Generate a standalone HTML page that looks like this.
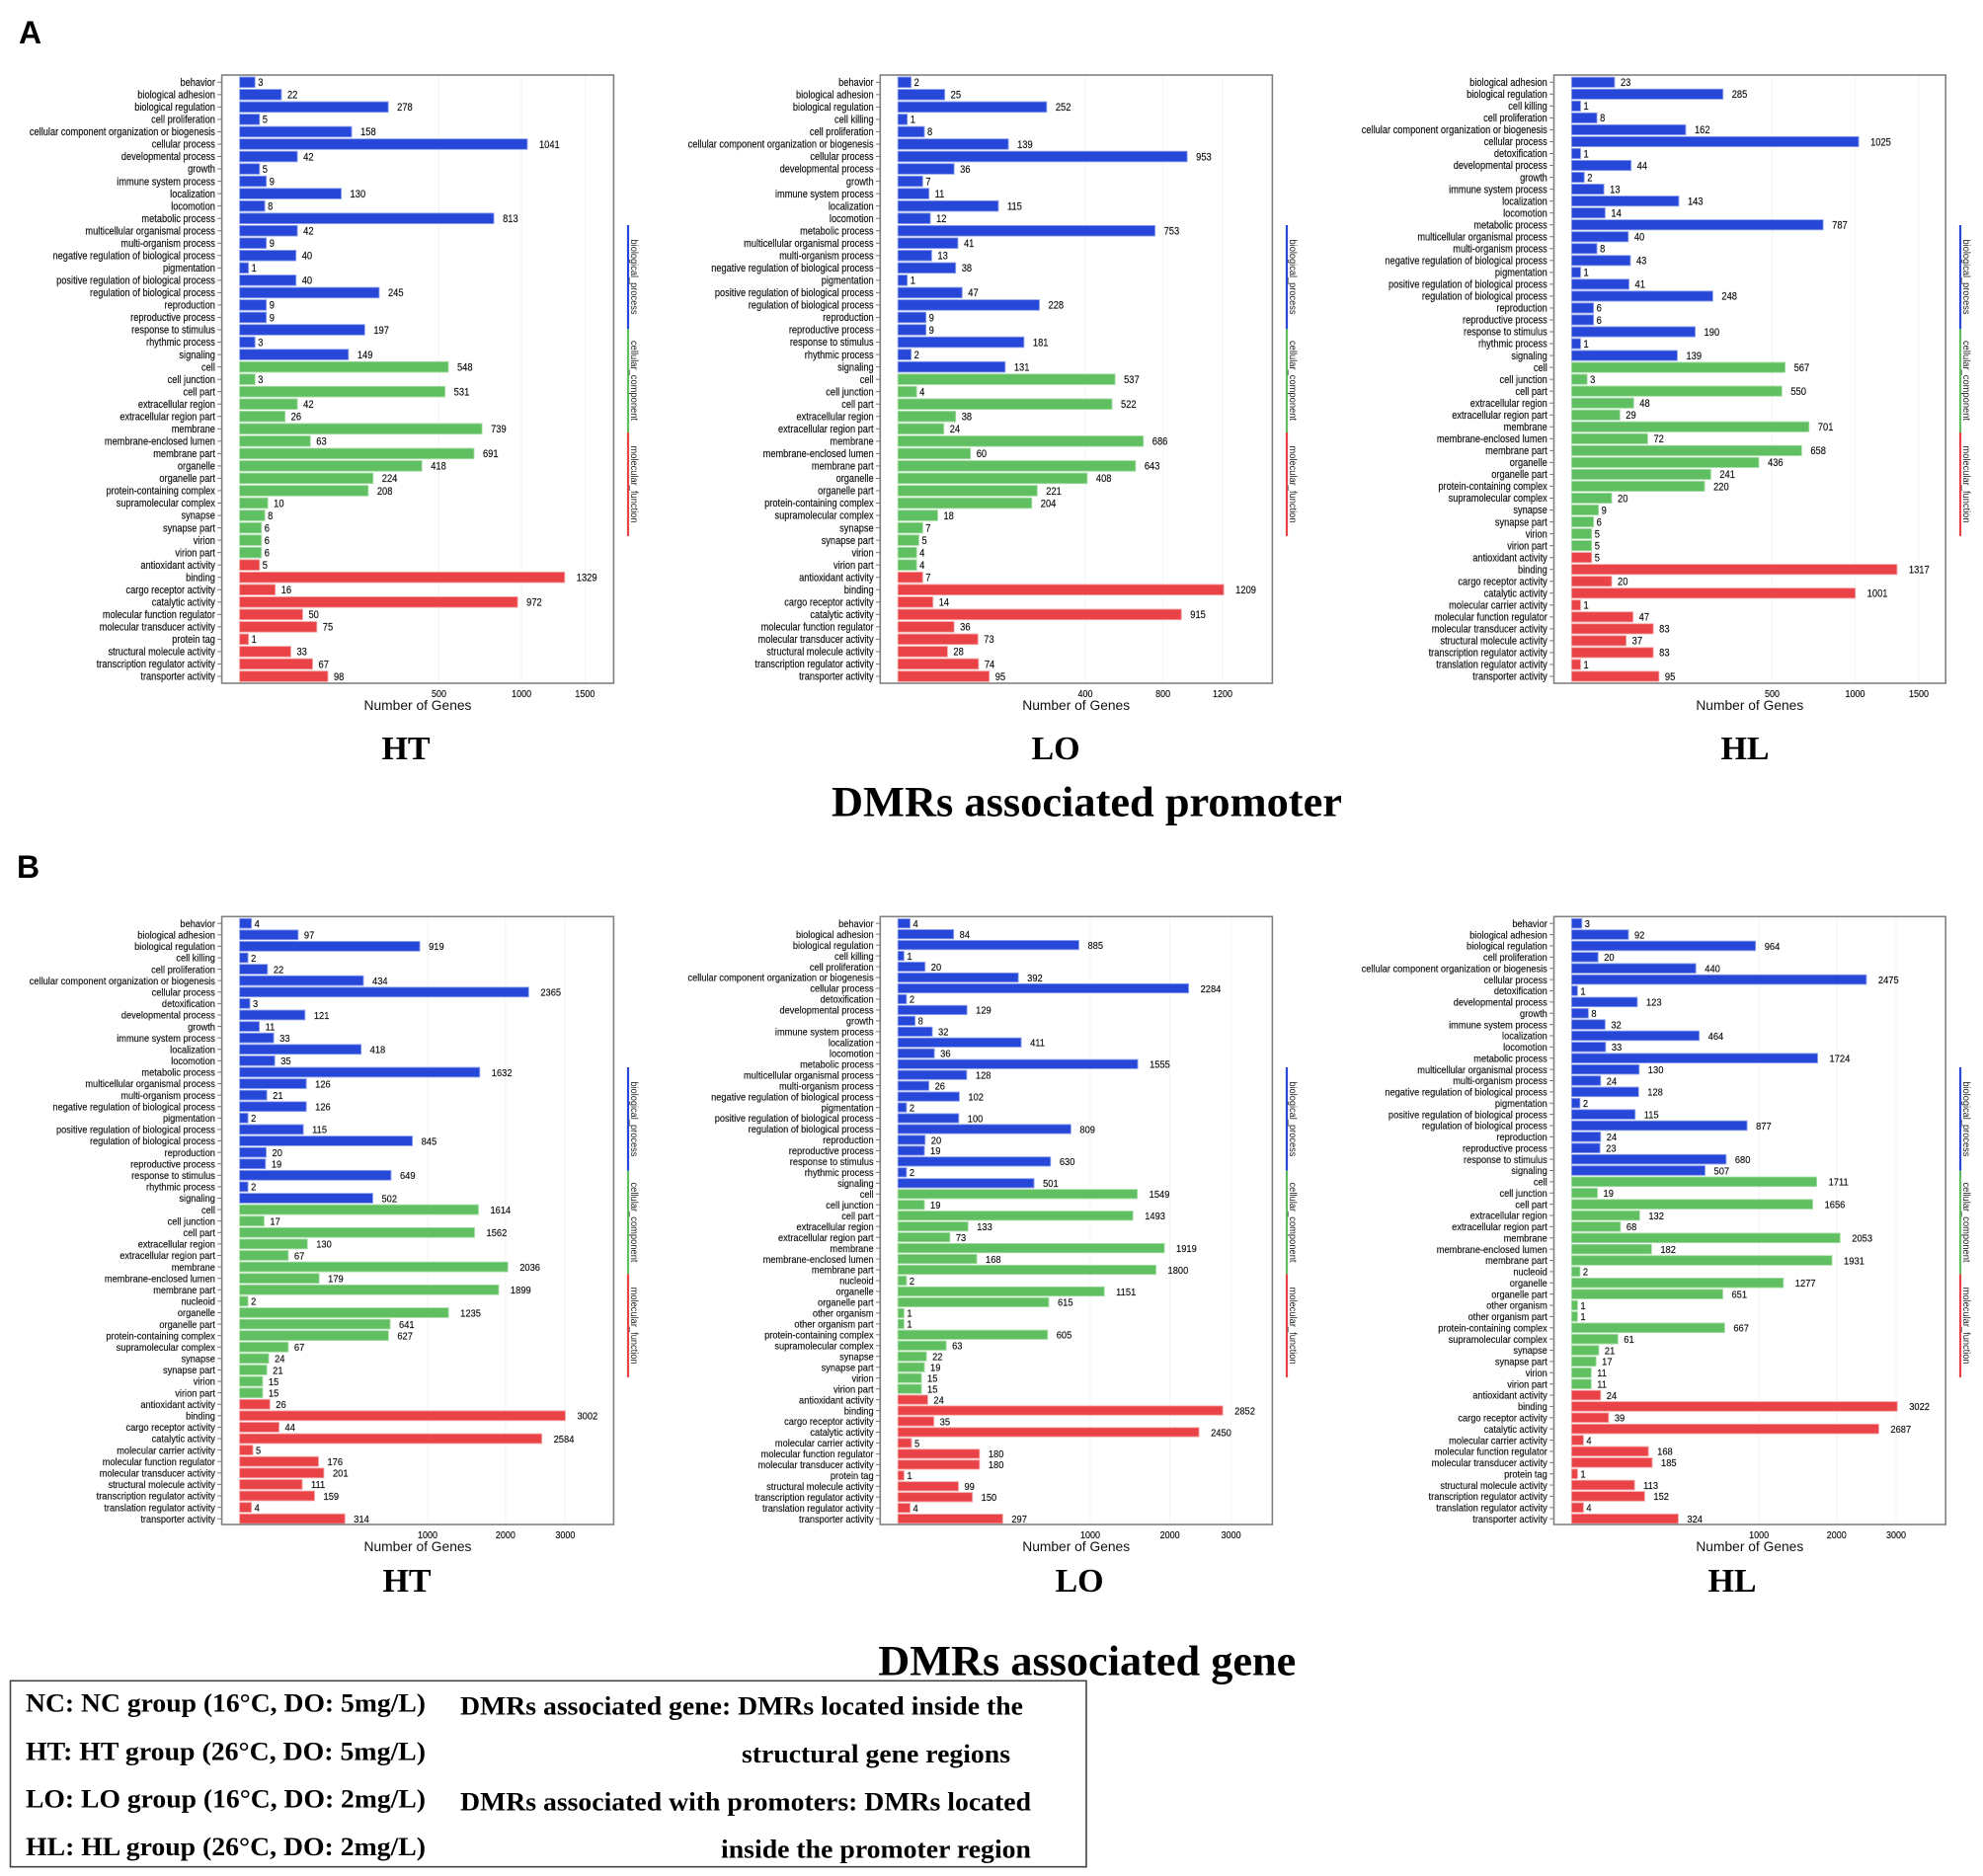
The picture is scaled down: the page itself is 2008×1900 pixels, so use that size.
<!DOCTYPE html>
<html lang="en">
<head>
<meta charset="utf-8">
<title>GO enrichment of DMR-associated promoters and genes</title>
<style>
  html, body { margin: 0; padding: 0; background: #fff; }
  svg { display: block; filter: blur(0.35px); }
  .cat, .val, .tick { font-family: "Liberation Sans", sans-serif; fill: #111; stroke: #111; stroke-width: 0.15px; }
  .axt { font-family: "Liberation Sans", sans-serif; fill: #111; font-size: 13.8px; }
  .grp { font-family: "Liberation Sans", sans-serif; fill: #222; font-size: 10.5px; }
  .ser { font-family: "Liberation Serif", serif; font-weight: 700; fill: #000; }
  .pl { font-family: "Liberation Sans", sans-serif; font-weight: 700; fill: #000; font-size: 32px; }
</style>
</head>
<body>
<svg id="figure" xmlns="http://www.w3.org/2000/svg" width="2008" height="1900" viewBox="0 0 2008 1900">
  <rect x="0" y="0" width="2008" height="1900" fill="#fff"/>
  <text class="pl" x="19" y="44">A</text>
  <text class="pl" x="17" y="889">B</text>

  <text class="ser" x="411" y="769" font-size="34" text-anchor="middle">HT</text>
  <text class="ser" x="1069" y="769" font-size="34" text-anchor="middle">LO</text>
  <text class="ser" x="1767" y="769" font-size="34" text-anchor="middle">HL</text>
  <text class="ser" x="842" y="826.7" font-size="43" textLength="517" lengthAdjust="spacingAndGlyphs">DMRs associated promoter</text>

  <text class="ser" x="412" y="1612" font-size="34" text-anchor="middle">HT</text>
  <text class="ser" x="1093" y="1612" font-size="34" text-anchor="middle">LO</text>
  <text class="ser" x="1754" y="1612" font-size="34" text-anchor="middle">HL</text>
  <text class="ser" x="889.3" y="1696.7" font-size="43" textLength="423" lengthAdjust="spacingAndGlyphs">DMRs associated gene</text>

  <rect x="10.5" y="1702.3" width="1089.5" height="188.4" fill="none" stroke="#444" stroke-width="1.6"/>
  <text class="ser" x="26" y="1733.3" font-size="26.5" textLength="405" lengthAdjust="spacingAndGlyphs">NC: NC group (16°C, DO: 5mg/L)</text>
  <text class="ser" x="26" y="1782.3" font-size="26.5" textLength="405" lengthAdjust="spacingAndGlyphs">HT: HT group (26°C, DO: 5mg/L)</text>
  <text class="ser" x="26" y="1830.7" font-size="26.5" textLength="405" lengthAdjust="spacingAndGlyphs">LO: LO group (16°C, DO: 2mg/L)</text>
  <text class="ser" x="26" y="1879" font-size="26.5" textLength="405" lengthAdjust="spacingAndGlyphs">HL: HL group (26°C, DO: 2mg/L)</text>
  <text class="ser" x="466" y="1736.7" font-size="26.5" textLength="570" lengthAdjust="spacingAndGlyphs">DMRs associated gene: DMRs located inside the</text>
  <text class="ser" x="751" y="1785" font-size="26.5" textLength="272" lengthAdjust="spacingAndGlyphs">structural gene regions</text>
  <text class="ser" x="466" y="1833.3" font-size="26.5" textLength="578" lengthAdjust="spacingAndGlyphs">DMRs associated with promoters: DMRs located</text>
  <text class="ser" x="730" y="1881.7" font-size="26.5" textLength="314" lengthAdjust="spacingAndGlyphs">inside the promoter region</text>
</svg>

<script>
// ---- Panel A (DMRs associated promoter) ----
const aHtCategories = ["behavior","biological adhesion","biological regulation","cell proliferation","cellular component organization or biogenesis","cellular process","developmental process","growth","immune system process","localization","locomotion","metabolic process","multicellular organismal process","multi-organism process","negative regulation of biological process","pigmentation","positive regulation of biological process","regulation of biological process","reproduction","reproductive process","response to stimulus","rhythmic process","signaling","cell","cell junction","cell part","extracellular region","extracellular region part","membrane","membrane-enclosed lumen","membrane part","organelle","organelle part","protein-containing complex","supramolecular complex","synapse","synapse part","virion","virion part","antioxidant activity","binding","cargo receptor activity","catalytic activity","molecular function regulator","molecular transducer activity","protein tag","structural molecule activity","transcription regulator activity","transporter activity"];
const aHtValues = [3,22,278,5,158,1041,42,5,9,130,8,813,42,9,40,1,40,245,9,9,197,3,149,548,3,531,42,26,739,63,691,418,224,208,10,8,6,6,6,5,1329,16,972,50,75,1,33,67,98];
const aHtGroupSizes = [23,16,10];
const aHtTicks = [500,1000,1500];

const aLoCategories = ["behavior","biological adhesion","biological regulation","cell killing","cell proliferation","cellular component organization or biogenesis","cellular process","developmental process","growth","immune system process","localization","locomotion","metabolic process","multicellular organismal process","multi-organism process","negative regulation of biological process","pigmentation","positive regulation of biological process","regulation of biological process","reproduction","reproductive process","response to stimulus","rhythmic process","signaling","cell","cell junction","cell part","extracellular region","extracellular region part","membrane","membrane-enclosed lumen","membrane part","organelle","organelle part","protein-containing complex","supramolecular complex","synapse","synapse part","virion","virion part","antioxidant activity","binding","cargo receptor activity","catalytic activity","molecular function regulator","molecular transducer activity","structural molecule activity","transcription regulator activity","transporter activity"];
const aLoValues = [2,25,252,1,8,139,953,36,7,11,115,12,753,41,13,38,1,47,228,9,9,181,2,131,537,4,522,38,24,686,60,643,408,221,204,18,7,5,4,4,7,1209,14,915,36,73,28,74,95];
const aLoGroupSizes = [24,16,9];
const aLoTicks = [400,800,1200];

const aHlCategories = ["biological adhesion","biological regulation","cell killing","cell proliferation","cellular component organization or biogenesis","cellular process","detoxification","developmental process","growth","immune system process","localization","locomotion","metabolic process","multicellular organismal process","multi-organism process","negative regulation of biological process","pigmentation","positive regulation of biological process","regulation of biological process","reproduction","reproductive process","response to stimulus","rhythmic process","signaling","cell","cell junction","cell part","extracellular region","extracellular region part","membrane","membrane-enclosed lumen","membrane part","organelle","organelle part","protein-containing complex","supramolecular complex","synapse","synapse part","virion","virion part","antioxidant activity","binding","cargo receptor activity","catalytic activity","molecular carrier activity","molecular function regulator","molecular transducer activity","structural molecule activity","transcription regulator activity","translation regulator activity","transporter activity"];
const aHlValues = [23,285,1,8,162,1025,1,44,2,13,143,14,787,40,8,43,1,41,248,6,6,190,1,139,567,3,550,48,29,701,72,658,436,241,220,20,9,6,5,5,5,1317,20,1001,1,47,83,37,83,1,95];
const aHlGroupSizes = [24,16,11];
const aHlTicks = [500,1000,1500];

// ---- Panel B (DMRs associated gene) ----
const bHtCategories = ["behavior","biological adhesion","biological regulation","cell killing","cell proliferation","cellular component organization or biogenesis","cellular process","detoxification","developmental process","growth","immune system process","localization","locomotion","metabolic process","multicellular organismal process","multi-organism process","negative regulation of biological process","pigmentation","positive regulation of biological process","regulation of biological process","reproduction","reproductive process","response to stimulus","rhythmic process","signaling","cell","cell junction","cell part","extracellular region","extracellular region part","membrane","membrane-enclosed lumen","membrane part","nucleoid","organelle","organelle part","protein-containing complex","supramolecular complex","synapse","synapse part","virion","virion part","antioxidant activity","binding","cargo receptor activity","catalytic activity","molecular carrier activity","molecular function regulator","molecular transducer activity","structural molecule activity","transcription regulator activity","translation regulator activity","transporter activity"];
const bHtValues = [4,97,919,2,22,434,2365,3,121,11,33,418,35,1632,126,21,126,2,115,845,20,19,649,2,502,1614,17,1562,130,67,2036,179,1899,2,1235,641,627,67,24,21,15,15,26,3002,44,2584,5,176,201,111,159,4,314];
const bHtGroupSizes = [25,17,11];
const bHtTicks = [1000,2000,3000];

const bLoCategories = ["behavior","biological adhesion","biological regulation","cell killing","cell proliferation","cellular component organization or biogenesis","cellular process","detoxification","developmental process","growth","immune system process","localization","locomotion","metabolic process","multicellular organismal process","multi-organism process","negative regulation of biological process","pigmentation","positive regulation of biological process","regulation of biological process","reproduction","reproductive process","response to stimulus","rhythmic process","signaling","cell","cell junction","cell part","extracellular region","extracellular region part","membrane","membrane-enclosed lumen","membrane part","nucleoid","organelle","organelle part","other organism","other organism part","protein-containing complex","supramolecular complex","synapse","synapse part","virion","virion part","antioxidant activity","binding","cargo receptor activity","catalytic activity","molecular carrier activity","molecular function regulator","molecular transducer activity","protein tag","structural molecule activity","transcription regulator activity","translation regulator activity","transporter activity"];
const bLoValues = [4,84,885,1,20,392,2284,2,129,8,32,411,36,1555,128,26,102,2,100,809,20,19,630,2,501,1549,19,1493,133,73,1919,168,1800,2,1151,615,1,1,605,63,22,19,15,15,24,2852,35,2450,5,180,180,1,99,150,4,297];
const bLoGroupSizes = [25,19,12];
const bLoTicks = [1000,2000,3000];

const bHlCategories = ["behavior","biological adhesion","biological regulation","cell proliferation","cellular component organization or biogenesis","cellular process","detoxification","developmental process","growth","immune system process","localization","locomotion","metabolic process","multicellular organismal process","multi-organism process","negative regulation of biological process","pigmentation","positive regulation of biological process","regulation of biological process","reproduction","reproductive process","response to stimulus","signaling","cell","cell junction","cell part","extracellular region","extracellular region part","membrane","membrane-enclosed lumen","membrane part","nucleoid","organelle","organelle part","other organism","other organism part","protein-containing complex","supramolecular complex","synapse","synapse part","virion","virion part","antioxidant activity","binding","cargo receptor activity","catalytic activity","molecular carrier activity","molecular function regulator","molecular transducer activity","protein tag","structural molecule activity","transcription regulator activity","translation regulator activity","transporter activity"];
const bHlValues = [3,92,964,20,440,2475,1,123,8,32,464,33,1724,130,24,128,2,115,877,24,23,680,507,1711,19,1656,132,68,2053,182,1931,2,1277,651,1,1,667,61,21,17,11,11,24,3022,39,2687,4,168,185,1,113,152,4,324];
const bHlGroupSizes = [23,19,12];
const bHlTicks = [1000,2000,3000];

const groupNames = ["biological_process","cellular_component","molecular_function"];

const NS = "http://www.w3.org/2000/svg";
const root = document.getElementById("figure");
const fills = ["#2747d8","#60bf60","#ea4347"];
const edges = ["#8fa2ee","#a6dca6","#f4a3a5"];

function make(tag, attrs, parent, text) {
  const el = document.createElementNS(NS, tag);
  for (const key in attrs) el.setAttribute(key, attrs[key]);
  if (text !== undefined) el.textContent = text;
  parent.appendChild(el);
  return el;
}
function slug(s) { return s.toLowerCase().replace(/[^a-z0-9]+/g, "-"); }

function drawPanel(p) {
  const g = make("g", {}, root);
  
  

  const n = p.categories.length;
  const xScale = v => p.x0 + p.k * Math.sqrt(v);
  const yScale = i => p.firstY + i * (p.lastY - p.firstY) / (n - 1);
  const pitch = (p.lastY - p.firstY) / (n - 1);
  const barH = pitch * 0.85;

  const plotBg = make("rect", {x: p.left, y: p.top, width: p.right - p.left, height: p.bottom - p.top, fill: "#fff"}, g);
  
  

  p.ticks.forEach(t => {
    const grid = make("line", {x1: xScale(t), x2: xScale(t), y1: p.top, y2: p.bottom, stroke: "#f3f3f3", "stroke-width": 1}, g);
    
    
  });

  let group = 0, groupEnd = p.groupSizes[0];
  p.categories.forEach((cat, i) => {
    while (i >= groupEnd) { group++; groupEnd += p.groupSizes[group]; }
    const y = yScale(i);
    const v = p.values[i];
    const end = xScale(v);

    const tick = make("line", {x1: p.left - 4.4, x2: p.left, y1: y, y2: y, stroke: "#777", "stroke-width": 1}, g);
    
    

    const label = make("text", {"class": "cat", "font-size": 9.25, "text-anchor": "end", transform: "translate(" + (p.left - 6.7) + "," + (y + 3.7) + ") scale(1," + p.sy + ")"}, g, cat);
    
    

    const bar = make("rect", {x: p.x0, y: y - barH / 2, width: end - p.x0, height: barH, fill: fills[group], stroke: edges[group], "stroke-width": 0.9}, g);
    
    

    const text = String(v);
    const val = make("text", {"class": "val", "font-size": 9.35, transform: "translate(" + (end + 3 * text.length) + "," + (y + 3.8) + ") scale(1," + p.sy + ")"}, g, text);
    
    
  });

  const frame = make("rect", {x: p.left, y: p.top, width: p.right - p.left, height: p.bottom - p.top, fill: "none", stroke: "#808080", "stroke-width": 1.6}, g);
  
  

  p.ticks.forEach(t => {
    const tl = make("text", {"class": "tick", "font-size": 9, "text-anchor": "middle", transform: "translate(" + xScale(t) + "," + (p.bottom + 14) + ") scale(1,1.15)"}, g, String(t));
    
    
  });

  const axt = make("text", {"class": "axt", x: p.axisX, y: p.bottom + 27, "text-anchor": "middle"}, g, "Number of Genes");
  
  

  const segH = (p.stripBottom - p.stripTop) / 3;
  const lengths = [76, 81, 78];
  groupNames.forEach((name, i) => {
    const seg = make("rect", {x: p.strip - 1.1, y: p.stripTop + i * segH, width: 2.2, height: segH, fill: fills[i]}, g);
    
    

    const cy = p.stripTop + (i + 0.5) * segH;
    const t = make("text", {"class": "grp", transform: "translate(" + (p.strip + 3) + "," + cy + ") rotate(90)", "text-anchor": "middle", textLength: lengths[i], lengthAdjust: "spacingAndGlyphs"}, g, name);
    
    
  });
}

const rowA = {top: 76, bottom: 692, firstY: 83.3, lastY: 685, sy: 1.19, stripTop: 228, stripBottom: 543};
const rowB = {top: 928.3, bottom: 1544, firstY: 935.2, lastY: 1538.2, sy: 1.1, stripTop: 1081, stripBottom: 1395};

drawPanel(Object.assign({}, rowA, {id: "a-ht", categories: aHtCategories, values: aHtValues, groupSizes: aHtGroupSizes, ticks: aHtTicks, left: 224.6, right: 621.4, x0: 242.6, k: 9.03, axisX: 423, strip: 636}));
drawPanel(Object.assign({}, rowA, {id: "a-lo", categories: aLoCategories, values: aLoValues, groupSizes: aLoGroupSizes, ticks: aLoTicks, left: 891.3, right: 1288.4, x0: 909.2, k: 9.49, axisX: 1089.7, strip: 1303}));
drawPanel(Object.assign({}, rowA, {id: "a-hl", categories: aHlCategories, values: aHlValues, groupSizes: aHlGroupSizes, ticks: aHlTicks, left: 1573.5, right: 1970.2, x0: 1591.4, k: 9.08, axisX: 1771.8, strip: 1985}));
drawPanel(Object.assign({}, rowB, {id: "b-ht", categories: bHtCategories, values: bHtValues, groupSizes: bHtGroupSizes, ticks: bHtTicks, left: 224.6, right: 621.4, x0: 242.6, k: 6.02, axisX: 423, strip: 636}));
drawPanel(Object.assign({}, rowB, {id: "b-lo", categories: bLoCategories, values: bLoValues, groupSizes: bLoGroupSizes, ticks: bLoTicks, left: 891.3, right: 1288.4, x0: 909.2, k: 6.16, axisX: 1089.7, strip: 1303}));
drawPanel(Object.assign({}, rowB, {id: "b-hl", categories: bHlCategories, values: bHlValues, groupSizes: bHlGroupSizes, ticks: bHlTicks, left: 1573.5, right: 1970.2, x0: 1591.4, k: 6.0, axisX: 1771.8, strip: 1985}));
</script>
</body>
</html>
